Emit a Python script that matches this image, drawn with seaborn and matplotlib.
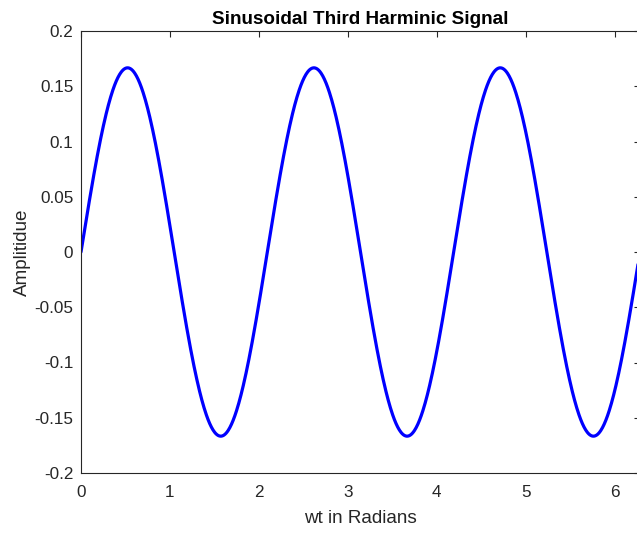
import numpy as np
import pandas as pd
import matplotlib
matplotlib.use("Agg")
import matplotlib.pyplot as plt
import seaborn as sns

# Signal parameters: third harmonic with amplitude 1/6 over one fundamental period
amplitude = 1.0 / 6.0
harmonic = 3
period = 2 * np.pi
n_samples = 1000

x_ticks = [0, 1, 2, 3, 4, 5, 6]
y_ticks = [-0.2, -0.15, -0.1, -0.05, 0, 0.05, 0.1, 0.15, 0.2]
y_tick_labels = ["-0.2", "-0.15", "-0.1", "-0.05", "0", "0.05", "0.1", "0.15", "0.2"]

wt = np.linspace(0, period, n_samples)
df = pd.DataFrame({"wt": wt, "amp": amplitude * np.sin(harmonic * wt)})

sns.set_theme(style="white")
plt.rcParams["font.family"] = ["Liberation Sans", "DejaVu Sans"]

fig = plt.figure(figsize=(6.37, 5.33), dpi=100)
ax = fig.add_axes([81 / 637, 60 / 533, 559 / 637, 442 / 533])

sns.lineplot(data=df, x="wt", y="amp", ax=ax, color="#0000ff", linewidth=2.3)

ax.set_xlim(0, period)
ax.set_ylim(-0.2, 0.2)
ax.set_xticks(x_ticks)
ax.set_xticklabels([str(t) for t in x_ticks])
ax.set_yticks(y_ticks)
ax.set_yticklabels(y_tick_labels)

for s in ax.spines.values():
    s.set_visible(True)
    s.set_color("#262626")
    s.set_linewidth(0.8)

ax.tick_params(direction="in", length=4, width=0.8, colors="#262626",
               top=True, right=True, labelsize=12.3)
ax.tick_params(axis="x", pad=8.5)
ax.tick_params(axis="y", pad=5.5)
for lbl in ax.get_xticklabels() + ax.get_yticklabels():
    lbl.set_color("#262626")

ax.set_xlabel("wt in Radians", fontsize=13.6, color="#262626", labelpad=7)
ax.set_ylabel("Amplitidue", fontsize=13.6, color="#262626", labelpad=2.5)
ax.set_title("Sinusoidal Third Harminic Signal", fontsize=13.6, fontweight="bold",
             color="black", pad=5)

fig.savefig("out.png", dpi=100)
